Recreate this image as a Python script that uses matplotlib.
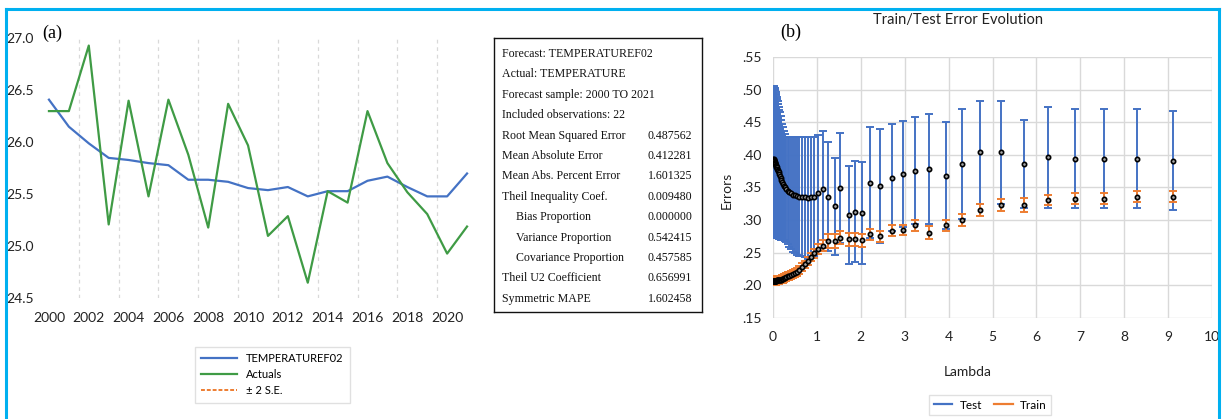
import matplotlib
matplotlib.use('Agg')
import matplotlib.pyplot as plt
from matplotlib.lines import Line2D
from matplotlib.ticker import FuncFormatter, MultipleLocator

# ---- panel (a) data: forecast vs actuals
years = list(range(2000, 2022))
actuals = [26.30, 26.30, 26.93, 25.21, 26.40, 25.48, 26.41, 25.88, 25.18, 26.37, 25.97,
           25.10, 25.29, 24.65, 25.53, 25.42, 26.30, 25.80, 25.52, 25.31, 24.93, 25.19]
forecast = [26.41, 26.15, 25.99, 25.85, 25.83, 25.80, 25.78, 25.64, 25.64, 25.62, 25.56,
            25.54, 25.57, 25.48, 25.53, 25.53, 25.63, 25.67, 25.57, 25.48, 25.48, 25.70]

stat_names = ["Forecast: TEMPERATUREF02", "Actual: TEMPERATURE", "Forecast sample: 2000 TO 2021",
              "Included observations: 22", "Root Mean Squared Error", "Mean Absolute Error",
              "Mean Abs. Percent Error", "Theil Inequality Coef.", "Bias Proportion",
              "Variance Proportion", "Covariance Proportion", "Theil U2 Coefficient",
              "Symmetric MAPE"]
stat_values = ["", "", "", "", "0.487562", "0.412281", "1.601325", "0.009480", "0.000000",
               "0.542415", "0.457585", "0.656991", "1.602458"]

# ---- panel (b) data: train/test error vs lambda
lam = [0.010, 0.013, 0.016, 0.020, 0.025, 0.030, 0.036, 0.042, 0.048, 0.055, 0.062, 0.070,
       0.078, 0.087, 0.096, 0.106, 0.117, 0.129, 0.142, 0.156, 0.172, 0.189, 0.208, 0.229,
       0.252, 0.277, 0.305, 0.335, 0.369, 0.406, 0.446, 0.491, 0.540, 0.594, 0.653, 0.719,
       0.790, 0.870, 0.940, 1.03, 1.15, 1.26, 1.41, 1.53, 1.72, 1.87, 2.03, 2.22, 2.44,
       2.70, 2.97, 3.24, 3.55, 3.93, 4.31, 4.72, 5.20, 5.71, 6.26, 6.89, 7.54, 8.30, 9.12]
test_mean = [0.393, 0.393, 0.392, 0.392, 0.391, 0.390, 0.389, 0.388, 0.387, 0.386, 0.385, 0.383,
             0.382, 0.381, 0.379, 0.377, 0.375, 0.373, 0.370, 0.368, 0.365, 0.362, 0.359, 0.356,
             0.353, 0.350, 0.347, 0.345, 0.343, 0.341, 0.339, 0.338, 0.337, 0.336, 0.336, 0.335,
             0.334, 0.335, 0.336, 0.342, 0.347, 0.336, 0.321, 0.349, 0.308, 0.313, 0.311, 0.357,
             0.352, 0.365, 0.371, 0.376, 0.378, 0.368, 0.386, 0.404, 0.404, 0.386, 0.396, 0.394,
             0.394, 0.394, 0.391]
test_err = [0.113, 0.113, 0.113, 0.113, 0.113, 0.113, 0.113, 0.113, 0.113, 0.113, 0.112, 0.111,
            0.109, 0.107, 0.106, 0.105, 0.103, 0.101, 0.099, 0.097, 0.094, 0.092, 0.089, 0.087,
            0.084, 0.082, 0.081, 0.082, 0.084, 0.086, 0.088, 0.089, 0.090, 0.091, 0.091, 0.092,
            0.093, 0.092, 0.091, 0.089, 0.089, 0.084, 0.074, 0.084, 0.075, 0.077, 0.078, 0.085,
            0.087, 0.082, 0.081, 0.082, 0.084, 0.082, 0.085, 0.079, 0.079, 0.068, 0.078, 0.076,
            0.076, 0.076, 0.076]
train_mean = [0.207, 0.207, 0.207, 0.207, 0.207, 0.207, 0.207, 0.207, 0.207, 0.207, 0.207, 0.207,
              0.207, 0.208, 0.208, 0.208, 0.208, 0.208, 0.208, 0.209, 0.209, 0.209, 0.210, 0.210,
              0.211, 0.212, 0.213, 0.214, 0.215, 0.216, 0.218, 0.219, 0.221, 0.224, 0.228, 0.232,
              0.237, 0.243, 0.249, 0.256, 0.261, 0.268, 0.268, 0.273, 0.271, 0.271, 0.269, 0.278,
              0.275, 0.284, 0.285, 0.292, 0.281, 0.292, 0.300, 0.315, 0.323, 0.323, 0.331, 0.333,
              0.333, 0.336, 0.336]
train_err = [0.006, 0.006, 0.006, 0.006, 0.006, 0.006, 0.006, 0.006, 0.006, 0.006, 0.006, 0.006,
             0.006, 0.006, 0.006, 0.006, 0.006, 0.006, 0.006, 0.006, 0.006, 0.006, 0.006, 0.006,
             0.006, 0.006, 0.006, 0.006, 0.006, 0.006, 0.006, 0.006, 0.006, 0.006, 0.006, 0.006,
             0.006, 0.006, 0.007, 0.008, 0.009, 0.010, 0.010, 0.010, 0.010, 0.010, 0.010, 0.008,
             0.009, 0.008, 0.008, 0.008, 0.010, 0.008, 0.009, 0.009, 0.009, 0.011, 0.008, 0.008,
             0.008, 0.008, 0.008]

BLUE = '#4472C4'
ORANGE = '#ED7D31'
GREEN = '#3f9b45'
CYAN = '#00B0F0'
SANS = ['Lato', 'DejaVu Sans']
SERIF = ['Liberation Serif', 'DejaVu Serif']

plt.rcParams['font.family'] = SANS

W, H = 1225, 419
fig = plt.figure(figsize=(W / 100, H / 100), dpi=100)


def fbox(x0, y0, x1, y1):
    # pixel box (top-left origin) -> figure rect
    return [x0 / W, 1 - y1 / H, (x1 - x0) / W, (y1 - y0) / H]


# ---------------- panel (a)
ax1 = fig.add_axes(fbox(39, 38.3, 477, 298.3))
ax1.plot(years, forecast, color=BLUE, lw=1.6, label='TEMPERATUREF02')
ax1.plot(years, actuals, color=GREEN, lw=1.6, label='Actuals')
ax1.set_xlim(1999.5, 2021.5)
ax1.set_ylim(24.5, 27.0)
ax1.set_xticks(years[::2])
ax1.set_yticks([24.5, 25.0, 25.5, 26.0, 26.5, 27.0])
ax1.yaxis.set_major_formatter(FuncFormatter(lambda v, p: f"{v:.1f}"))
for gx in [2001.5 + 2 * k for k in range(10)]:
    ax1.axvline(gx, color='#d9d9d9', lw=0.9, ls=(0, (3, 3)), zorder=0)
for s in ax1.spines.values():
    s.set_visible(False)
ax1.tick_params(length=0, labelsize=10, colors='#222222')
ax1.tick_params(axis='y', pad=4)
ax1.tick_params(axis='x', pad=10)
fig.text(42 / W, 1 - 33 / H, '(a)', family=SERIF, fontsize=13, va='center', ha='left')

handles = [Line2D([], [], color=BLUE, lw=1.6),
           Line2D([], [], color=GREEN, lw=1.6),
           Line2D([], [], color=ORANGE, lw=1.4, ls=(0, (2, 1)))]
leg1 = fig.legend(handles, ['TEMPERATUREF02', 'Actuals', '± 2 S.E.'],
                  loc='upper left', bbox_to_anchor=(189 / W, 1 - 341 / H),
                  fontsize=8, frameon=True, fancybox=False, handlelength=3.2,
                  borderpad=0.6, labelspacing=0.45, handletextpad=0.8)
leg1.get_frame().set_edgecolor('#d9d9d9')
leg1.get_frame().set_linewidth(1.0)

# ---------------- statistics table
axt = fig.add_axes(fbox(494, 38, 702, 312))
axt.set_xlim(494, 702)
axt.set_ylim(312, 38)
axt.set_xticks([])
axt.set_yticks([])
for s in axt.spines.values():
    s.set_color('#111111')
    s.set_linewidth(1.0)
for i, (name, val) in enumerate(zip(stat_names, stat_values)):
    yy = 54 + i * 20.4
    xx = 516 if name.endswith('Proportion') else 502
    axt.text(xx, yy, name, family=SERIF, fontsize=8.6, va='center', ha='left', color='#111111')
    if val:
        axt.text(692, yy, val, family=SERIF, fontsize=8.6, va='center', ha='right', color='#111111')

# ---------------- panel (b)
ax2 = fig.add_axes(fbox(773, 57, 1212, 318))
ax2.errorbar(lam, test_mean, yerr=test_err, fmt='none', ecolor=BLUE, elinewidth=1.4,
             capsize=3, capthick=1.4, zorder=2)
ax2.errorbar(lam, train_mean, yerr=train_err, fmt='none', ecolor=ORANGE, elinewidth=1.4,
             capsize=3, capthick=1.4, zorder=3)
ax2.plot(lam, test_mean, 'o', ms=3.1, mfc='#a8a8a8', mec='black', mew=1.2, zorder=4)
ax2.plot(lam, train_mean, 'o', ms=3.1, mfc='#a8a8a8', mec='black', mew=1.2, zorder=4)
ax2.set_xlim(0, 10)
ax2.set_ylim(0.15, 0.55)
ax2.xaxis.set_major_locator(MultipleLocator(1))
ax2.yaxis.set_major_locator(MultipleLocator(0.05))
ax2.yaxis.set_major_formatter(FuncFormatter(lambda v, p: f"{v:.2f}".lstrip('0')))
ax2.grid(True, color='#d9d9d9', lw=1.0)
ax2.set_axisbelow(True)
for s in ax2.spines.values():
    s.set_visible(False)
ax2.tick_params(length=0, labelsize=10, colors='#222222')
ax2.tick_params(axis='x', pad=9)
ax2.tick_params(axis='y', pad=8)

fig.text(958 / W, 1 - 20 / H, 'Train/Test Error Evolution', fontsize=10.5, ha='center',
         va='center', color='#222222')
fig.text(780 / W, 1 - 32 / H, '(b)', family=SERIF, fontsize=13, va='center', ha='left')
fig.text(727 / W, 1 - 190 / H, 'Errors', fontsize=10, rotation=90, ha='center', va='center',
         color='#222222')
fig.text(968 / W, 1 - 372 / H, 'Lambda', fontsize=10, ha='center', va='center', color='#222222')

leg2 = fig.legend([Line2D([], [], color=BLUE, lw=1.6), Line2D([], [], color=ORANGE, lw=1.6)],
                  ['Test', 'Train'], loc='center', bbox_to_anchor=(990 / W, 1 - 405 / H),
                  ncol=2, fontsize=8.5, frameon=True, fancybox=False, handlelength=1.6,
                  columnspacing=1.0, handletextpad=0.6, borderpad=0.4)
leg2.get_frame().set_edgecolor('#d9d9d9')

# ---------------- cyan frame
for xs, ys in [([6, 6], [419, 9]), ([6, 1219], [9, 9]), ([1219, 1219], [9, 419])]:
    fig.add_artist(Line2D([x / W for x in xs], [1 - y / H for y in ys], color=CYAN, lw=2.2,
                          transform=fig.transFigure))

fig.savefig('out.png', dpi=100)
plt.close(fig)
